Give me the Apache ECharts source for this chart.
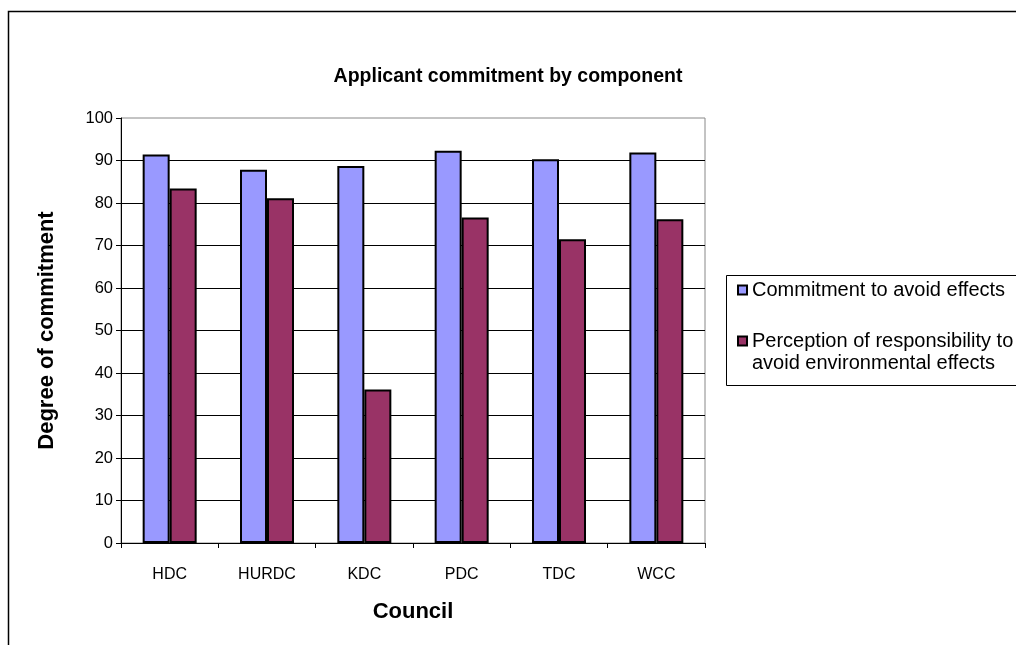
<!DOCTYPE html>
<html>
<head>
<meta charset="utf-8">
<script src="https://cdn.jsdelivr.net/npm/echarts@6/dist/echarts.min.js"></script>
<style>
html,body{margin:0;padding:0;background:#fff;}
#chart{width:1016px;height:645px;}
</style>
</head>
<body>
<div id="chart"></div>
<script>
const categories = ['HDC', 'HURDC', 'KDC', 'PDC', 'TDC', 'WCC'];
const commitmentValues = [91.4, 87.8, 88.7, 92.3, 90.3, 91.9];
const perceptionValues = [83.4, 81.1, 36.1, 76.6, 71.5, 76.2];
const seriesNames = ['Commitment to avoid effects', 'Perception of responsibility to avoid environmental effects'];
const yTicks = { min: 0, max: 100, interval: 10 };

const FONT = 'Liberation Sans, Arial, sans-serif';
const chart = echarts.init(document.getElementById('chart'), null, { renderer: 'canvas' });

chart.setOption({
  animation: false,
  backgroundColor: '#ffffff',
  title: {
    text: 'Applicant commitment by component',
    left: 'center',
    top: 62,
    textStyle: { fontFamily: FONT, fontSize: 19.5, fontWeight: 'bold', color: '#000' }
  },
  grid: {
    left: 121, top: 118, width: 584, height: 425,
    show: true, borderColor: '#888', borderWidth: 1, backgroundColor: 'transparent'
  },
  legend: [
    {
      data: [seriesNames[0]],
      orient: 'vertical',
      left: 732, top: 275,
      itemWidth: 9, itemHeight: 9, itemGap: 0,
      icon: 'rect',
      textStyle: { fontFamily: FONT, fontSize: 20, color: '#000' }
    },
    {
      data: [seriesNames[1]],
      orient: 'vertical',
      left: 732, top: 303,
      itemWidth: 9, itemHeight: 9, itemGap: 0,
      icon: 'rect',
      formatter: function () { return '\nPerception of responsibility to\navoid environmental effects'; },
      textStyle: { fontFamily: FONT, fontSize: 20, color: '#000', lineHeight: 22 }
    }
  ],
  xAxis: {
    type: 'category',
    data: categories,
    name: 'Council',
    nameLocation: 'middle',
    nameGap: 58,
    nameTextStyle: { fontFamily: FONT, fontSize: 22, fontWeight: 'bold', color: '#000' },
    axisLine: { lineStyle: { color: '#000', width: 1 } },
    axisTick: { show: true, length: 5, alignWithLabel: false, lineStyle: { color: '#000' } },
    axisLabel: { fontFamily: FONT, fontSize: 16, color: '#000', margin: 24 },
    splitLine: { show: false }
  },
  yAxis: {
    type: 'value',
    min: yTicks.min, max: yTicks.max, interval: yTicks.interval,
    name: 'Degree of commitment',
    nameLocation: 'middle',
    nameGap: 63,
    nameTextStyle: { fontFamily: FONT, fontSize: 22, fontWeight: 'bold', color: '#000' },
    axisLine: { show: true, lineStyle: { color: '#000', width: 1 } },
    axisTick: { show: true, length: 5, lineStyle: { color: '#000' } },
    axisLabel: { fontFamily: FONT, fontSize: 16.5, color: '#000', margin: 8 },
    splitLine: { show: true, showMaxLine: false, lineStyle: { color: '#000', width: 1 } }
  },
  series: [
    {
      name: seriesNames[0],
      type: 'bar',
      data: commitmentValues,
      barWidth: 27,
      barGap: '0%',
      itemStyle: { color: '#9999FF', borderColor: '#000', borderWidth: 2 }
    },
    {
      name: seriesNames[1],
      type: 'bar',
      data: perceptionValues,
      barWidth: 27,
      barGap: '0%',
      itemStyle: { color: '#993366', borderColor: '#000', borderWidth: 2 }
    }
  ],
  graphic: [
    {
      type: 'polyline',
      shape: { points: [[8.5, 645], [8.5, 11.5], [1016, 11.5]] },
      style: { stroke: '#000', lineWidth: 1.5, fill: null },
      silent: true
    },
    {
      type: 'rect',
      shape: { x: 726.5, y: 275.5, width: 300, height: 110 },
      style: { stroke: '#000', lineWidth: 1, fill: null },
      silent: true,
      z: -1
    }
  ]
});
</script>
</body>
</html>
